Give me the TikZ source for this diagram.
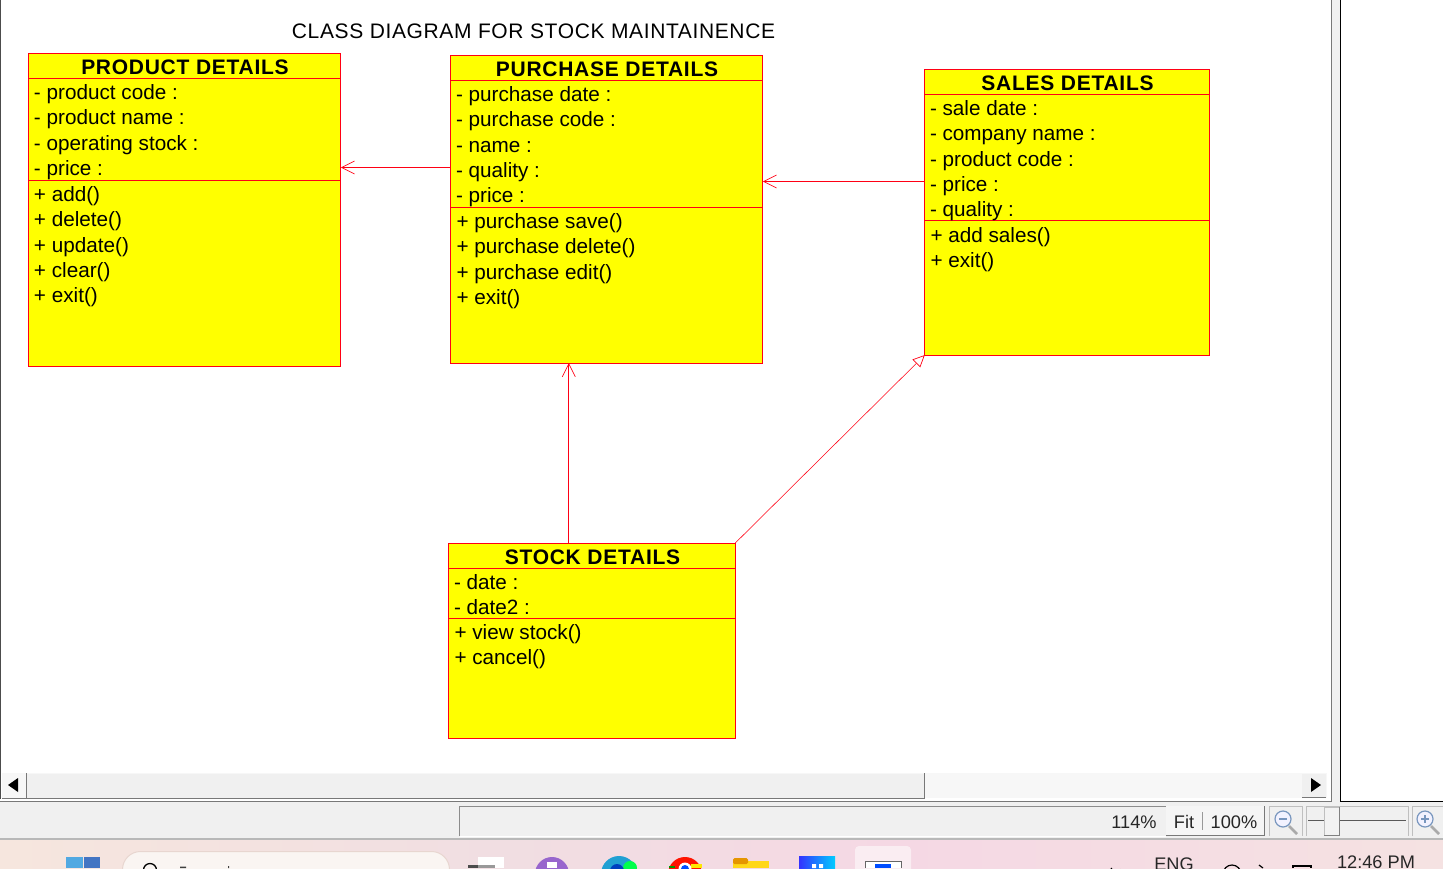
\documentclass[tikz,border=0pt]{standalone}
\usepackage{fontspec}
\setmainfont{Liberation Sans}
\usetikzlibrary{arrows.meta}
\definecolor{uired}{RGB}{255,0,20}
\definecolor{boxyellow}{RGB}{255,255,0}
\definecolor{uibar}{RGB}{240,240,240}
\definecolor{uiedge}{RGB}{120,120,120}
\definecolor{barA}{RGB}{246,230,222}
\definecolor{barB}{RGB}{241,222,226}
\definecolor{barC}{RGB}{245,216,228}
\definecolor{barD}{RGB}{245,226,226}
\definecolor{searchfill}{RGB}{250,245,242}
\definecolor{searchedge}{RGB}{232,214,208}
\definecolor{lensblue}{RGB}{120,150,190}
\definecolor{handlegray}{RGB}{170,170,170}
\tikzset{
  x=1pt,y=-1pt,
  classbox/.style={draw=uired,fill=boxyellow,line width=0.9pt,anchor=north west,inner sep=0pt,outer sep=0pt},
  headtext/.style={font=\fontsize{21}{21}\selectfont\bfseries\addfontfeature{LetterSpace=3.5},inner sep=0pt,outer sep=0pt,anchor=base},
  membertext/.style={font=\fontsize{20.7}{25.3}\selectfont,inner sep=0pt,outer sep=0pt,anchor=north west,align=left,text=black},
  rule/.style={draw=uired,line width=0.9pt},
  assoc/.style={draw=uired,line width=0.7pt,-{Straight Barb[length=13pt,width=13pt,line width=0.7pt]}},
  assocopen/.style={draw=uired,line width=0.55pt,-{Triangle[open,fill=white,length=12pt,width=11pt,line width=0.7pt]}},
  uitext/.style={font=\fontsize{18.2}{18}\selectfont,inner sep=0pt,text=black!85},
}
\begin{document}
\begin{tikzpicture}
\useasboundingbox (0,0) rectangle (1443,868);
\fill[white] (0,0) rectangle (1443,868);
% window chrome
\draw[black!70,line width=1pt] (0.5,0) -- (0.5,799);
\fill[uibar] (1331,0) rectangle (1341,802);
\draw[uiedge,line width=1pt] (1331,0) -- (1331,802);
\draw[black,line width=1.2pt] (1340.5,0) -- (1340.5,802) -- (1443,802);
\fill[uibar] (0,802) rectangle (1443,838);
\draw[uiedge,line width=1pt] (0,801.5) -- (1331,801.5);
% horizontal scrollbar
\fill[black!3] (2,773) rectangle (1327,798);
\fill[uibar] (27,774) rectangle (924,798);
\draw[uiedge,line width=1pt] (2,798.5) -- (924.5,798.5) -- (924.5,773);
\draw[uiedge,line width=0.8pt] (26,773) -- (26,798);
\fill[uibar] (1302,774) rectangle (1326,797);
\draw[uiedge,line width=0.9pt] (1302,797.5) -- (1326,797.5);
\fill[black] (8,785) -- (18,778) -- (18,792) -- cycle;
\fill[black] (1321,785) -- (1311,778) -- (1311,792) -- cycle;
% status bar
\draw[black!45,line width=0.8pt] (459.5,836) -- (459.5,806) -- (1264,806);
\draw[white,line width=1pt] (460,836) -- (1166,836);
\fill[black!4] (1166,806) rectangle (1264,835);
\draw[uiedge,line width=1pt] (1166,835.5) -- (1264,835.5) -- (1264,806);
\draw[black!40,line width=0.7pt] (1202.5,812) -- (1202.5,830);
\node[uitext] (zoomlevel) at (1134,822) {114\%};
\node[uitext] (zoomfit) at (1184,822) {Fit};
\node[uitext] (zoomfull) at (1234,822) {100\%};
\draw[black!25,line width=0.7pt] (1269,836) -- (1269,806) -- (1302,806) -- (1302,836);
\draw[black!25,line width=0.7pt] (1306,836) -- (1306,806) -- (1408,806) -- (1408,836);
\draw[black!25,line width=0.7pt] (1412,836) -- (1412,806) -- (1443,806);
\draw[black!65,line width=0.9pt] (1308,820.5) -- (1324,820.5) (1340,820.5) -- (1406,820.5);
\fill[black!5] (1324,807) rectangle (1339,835);
\draw[black!50,line width=0.8pt] (1339,807) -- (1339,835) -- (1324,835);
\draw[black!25,line width=0.7pt] (1324,835) -- (1324,807) -- (1339,807);
\foreach \cx/\s in {1283/0,1425/1}{
  \draw[handlegray,line width=2.6pt] (\cx+6,826) -- (\cx+14,834);
  \draw[lensblue,fill=blue!5,line width=1.2pt] (\cx,819) circle (8);
  \draw[lensblue,line width=1.1pt] (\cx-4,819) -- (\cx+4,819);
  \ifnum\s=1 \draw[lensblue,line width=1.1pt] (\cx,815) -- (\cx,823); \fi
}
% taskbar
\shade[left color=barA,right color=barB] (0,839) rectangle (500,868);
\shade[left color=barB,right color=barC] (500,839) rectangle (900,868);
\shade[left color=barC,right color=barD] (900,839) rectangle (1443,868);
\fill[black!28] (0,838) rectangle (1443,839.6);
\begin{scope}
\clip (0,840) rectangle (1443,868);
\draw[searchedge,fill=searchfill,line width=1pt,rounded corners=18pt] (122.5,851.5) rectangle (449.5,900);
\draw[black,line width=1.3pt] (150,870) circle (6.5);
\fill[black!75] (180,866.5) rectangle (186,868) (228,866) rectangle (229,868);
\fill[cyan!75!blue!70] (66,857) rectangle (82.5,868);
\fill[cyan!40!blue!80] (84,857) rectangle (100,868);
\fill[white] (478,857) rectangle (504,868);
\fill[black!70] (468,865) rectangle (478,868);
\fill[black!40] (478,865) rectangle (495,868);
\fill[blue!35!violet!60] (552,874) circle (17);
\fill[white] (547,862) rectangle (557,868);
\fill[cyan!70!teal] (619,874) circle (18);
\fill[green!70!cyan] (630,868) circle (7);
\fill[blue!50!teal] (617,871) circle (7);
\fill[red!85!orange] (685,874) circle (17);
\fill[green!60!black] (668.5,866) rectangle (675,868);
\fill[yellow!90!orange] (691,864) rectangle (702,868);
\fill[white] (685,869) circle (6.5);
\fill[blue!70!cyan] (685,869) circle (4);
\fill[orange!35!yellow!90] (733,860.5) rectangle (769,868);
\fill[orange!70!yellow!90!black,rounded corners=1.5pt] (733,858) rectangle (748,864);
\shade[left color=blue!80,right color=cyan!80!blue] (799,856) rectangle (835,868);
\fill[white] (812,864) rectangle (816,868) (819,864) rectangle (823,868);
\fill[white,opacity=.55,rounded corners=4pt] (855,846) rectangle (911,875);
\fill[white] (865,861) rectangle (901,868);
\draw[black!60,line width=1pt] (865,868) -- (865,861) -- (901,861) -- (901,868);
\fill[blue!70!cyan] (875,864) rectangle (891,868);
\draw[black,line width=1.2pt] (1111,868) arc (180:330:5 and -3);
\draw[black,line width=1.2pt] (1232,874) circle (9);
\draw[black,line width=1.2pt] (1263,868) -- (1259,865);
\draw[black,line width=1.2pt] (1293,868) -- (1293,866) -- (1311,866) -- (1311,868);
\node[uitext] (lang) at (1174,864) {ENG};
\node[uitext] (clock) at (1376,862) {12:46 PM};
\end{scope}
% title
\node[font=\fontsize{21}{21}\selectfont\addfontfeature{LetterSpace=3},inner sep=0pt] (title) at (533.5,31) {CLASS DIAGRAM FOR STOCK MAINTAINENCE};
% classes
\begin{scope}[xshift=-0.7pt,yshift=0.5pt]
\node[classbox,minimum width=312pt,minimum height=313pt] (product) at (29.5,53.5) {};
\node[classbox,minimum width=312pt,minimum height=308pt] (purchase) at (451.5,55.5) {};
\node[classbox,minimum width=285pt,minimum height=286pt] (sales) at (925.5,69.5) {};
\node[classbox,minimum width=287pt,minimum height=195pt] (stock) at (449,543.5) {};
\draw[rule] (29.5,79) -- (341.5,79) (29.5,180.5) -- (341.5,180.5);
\draw[rule] (451.5,81) -- (763.5,81) (451.5,207.5) -- (763.5,207.5);
\draw[rule] (925.5,95) -- (1210.5,95) (925.5,221) -- (1210.5,221);
\draw[rule] (449,569) -- (736,569) (449,619) -- (736,619);
\coordinate (purchaseout) at (purchase.west |- 0,168);
\coordinate (productin) at (product.east |- 0,168);
\coordinate (salesout) at (sales.west |- 0,182);
\coordinate (purchasein) at (purchase.east |- 0,182);
\coordinate (stockup) at (569.5,543.5);
\coordinate (purchaseup) at (569.5,363.5);
\end{scope}
\node[headtext] (producthead) at (185,74) {PRODUCT DETAILS};
\node[headtext] (purchasehead) at (607,76) {PURCHASE DETAILS};
\node[headtext] (saleshead) at (1067.5,90) {SALES DETAILS};
\node[headtext] (stockhead) at (592.5,564) {STOCK DETAILS};
\node[membertext] (productattr) at (34,84.5) {- product code :\\- product name :\\- operating stock :\\- price :};
\node[membertext] (productops) at (34,186.5) {+ add()\\+ delete()\\+ update()\\+ clear()\\+ exit()};
\node[membertext] (purchaseattr) at (456,86.5) {- purchase date :\\- purchase code :\\- name :\\- quality :\\- price :};
\node[membertext] (purchaseops) at (456.5,213.5) {+ purchase save()\\+ purchase delete()\\+ purchase edit()\\+ exit()};
\node[membertext] (salesattr) at (930,100.5) {- sale date :\\- company name :\\- product code :\\- price :\\- quality :};
\node[membertext] (salesops) at (930.5,227.5) {+ add sales()\\+ exit()};
\node[membertext] (stockattr) at (454,574.5) {- date :\\- date2 :};
\node[membertext] (stockops) at (454.5,624.5) {+ view stock()\\+ cancel()};
% connectors
\draw[assoc] (purchaseout) -- (productin);
\draw[assoc] (salesout) -- (purchasein);
\draw[assoc] (stockup) -- (purchaseup);
\draw[assocopen] (stock.north east) -- (sales.south west);
\end{tikzpicture}
\end{document}
